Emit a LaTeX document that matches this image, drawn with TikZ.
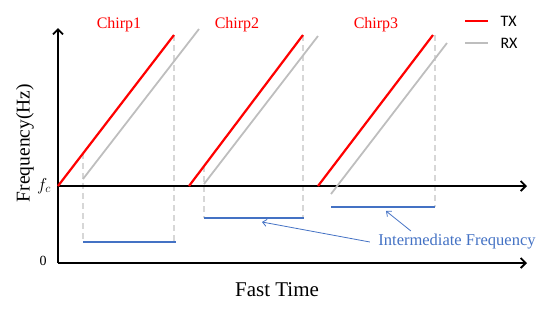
\documentclass[tikz,border=0pt]{standalone}
\usepackage{fontspec}
\setmainfont{Liberation Serif}
\newfontfamily\legendfont{Carlito}
\usepackage{tikz}
\usetikzlibrary{arrows.meta}

\definecolor{txred}{RGB}{255,0,0}
\definecolor{rxgray}{RGB}{190,190,190}
\definecolor{dashgray}{RGB}{215,215,215}
\definecolor{ifblue}{RGB}{68,114,196}

\begin{document}
\begin{tikzpicture}[x=1pt,y=-1pt,
                    axis/.style={line width=1.8pt,-{Straight Barb[length=5pt,width=10pt]}},
                    tx/.style={txred,line width=2.2pt},
                    rx/.style={rxgray,line width=1.8pt},
                    guide/.style={dashgray,line width=1.5pt,dash pattern=on 6pt off 4pt},
                    ifline/.style={ifblue,line width=1.8pt},
                    pointer/.style={ifblue,line width=0.8pt,-{Straight Barb[length=4pt,width=7pt]}}]
  \useasboundingbox (0,0) rectangle (550,309);
  % guides down to the IF levels
  \draw[guide] (83,153) -- (83,242);
  \draw[guide] (174,35) -- (174,242);
  \draw[guide] (204,166) -- (204,218);
  \draw[guide] (303,35) -- (303,218);
  \draw[guide] (435,35) -- (435,207);
  % axes
  \draw[axis] (58,263) -- (58,28);
  \draw[axis] (58,263) -- (527,263);
  \draw[axis] (58,186) -- (527,186);
  % chirps: TX and delayed RX
  \draw[tx] (58,186) -- (174,35);
  \draw[tx] (189,186) -- (303,35);
  \draw[tx] (318,186) -- (433,35);
  \draw[rx] (83,179) -- (199,29);
  \draw[rx] (204,184) -- (318,36);
  \draw[rx] (331,194) -- (447,43);
  % beat (IF) levels
  \draw[ifline] (83,242) -- (176,242);
  \draw[ifline] (204,218) -- (304,218);
  \draw[ifline] (331,207) -- (435,207);
  \coordinate (if2) at (262,222);
  \coordinate (if3) at (386,211);
  % labels
  \node[txred,font=\fontsize{16}{18}\selectfont] (c1) at (119,25) {Chirp1};
  \node[txred,font=\fontsize{16}{18}\selectfont] (c2) at (237,25) {Chirp2};
  \node[txred,font=\fontsize{16}{18}\selectfont] (c3) at (376,25) {Chirp3};
  \node[font=\fontsize{19.5}{22}\selectfont,rotate=90] (ylab) at (25,143) {Frequency(Hz)};
  \node[font=\fontsize{21}{24}\selectfont] (xlab) at (277,290) {Fast Time};
  \node[font=\fontsize{18}{20}\selectfont] (fc) at (44,186) {$f_c$};
  \node[font=\fontsize{14}{16}\selectfont] (zero) at (43,261) {0};
  \node[ifblue,font=\fontsize{16.5}{18}\selectfont] (ifreq) at (457,242) {Intermediate Frequency};
  \draw[pointer] ([xshift=-5pt]ifreq.west) -- (if2);
  \draw[pointer] ([xshift=36pt]ifreq.north west) -- (if3);
  % legend
  \coordinate (tx0) at (465,21);
  \coordinate (rx0) at (465,43);
  \node[anchor=west,font=\legendfont\fontsize{16}{18}\selectfont] (txl) at (497,21) {TX};
  \node[anchor=west,font=\legendfont\fontsize{16}{18}\selectfont] (rxl) at (497,43) {RX};
  \draw[tx] (tx0) -- ([xshift=-9pt]txl.west);
  \draw[rx] (rx0) -- ([xshift=-9pt]rxl.west);
\end{tikzpicture}
\end{document}
